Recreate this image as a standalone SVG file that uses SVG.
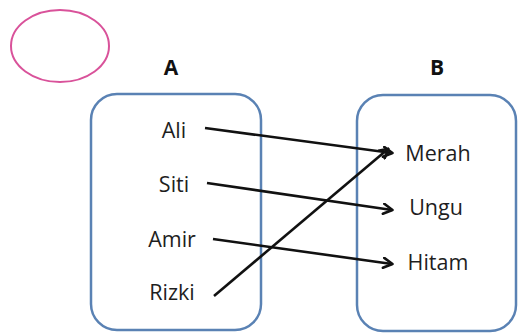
<svg xmlns="http://www.w3.org/2000/svg" width="518" height="334" viewBox="0 0 518 334">
<defs>
<style>
.box{fill:#ffffff;stroke:#5a82b4;stroke-width:2.5}
.t{font-family:"Open Sans","Liberation Sans",sans-serif;font-size:21.5px;fill:#1e1e1e;text-anchor:middle}
.h{font-family:"Open Sans","Liberation Sans",sans-serif;font-size:21px;font-weight:bold;fill:#111;text-anchor:middle}
.c{stroke:#111;stroke-width:2.6;fill:none;marker-end:url(#arr)}
</style>
<marker id="arr" markerWidth="12" markerHeight="12" refX="10" refY="6" orient="auto" markerUnits="userSpaceOnUse" viewBox="0 0 12 12">
<path d="M1.5,1 L10.5,6 L1.5,11" fill="none" stroke="#111" stroke-width="2.6" stroke-linecap="round" stroke-linejoin="round"/>
</marker>
</defs>
<rect width="518" height="334" fill="#ffffff"/>
<ellipse cx="60" cy="46" rx="49" ry="36" fill="none" stroke="#d9529a" stroke-width="2"/>
<g id="setA">
<rect class="box" x="91" y="94" width="170" height="236" rx="26"/>
<text class="h" x="171" y="75">A</text>
</g>
<g id="setB">
<rect class="box" x="357" y="95" width="159" height="236" rx="26"/>
<text class="h" x="437" y="75">B</text>
</g>
<g id="ali"><text class="t" x="174" y="138">Ali</text></g>
<g id="siti"><text class="t" x="174" y="192">Siti</text></g>
<g id="amir"><text class="t" x="172" y="247">Amir</text></g>
<g id="rizki"><text class="t" x="172" y="300">Rizki</text></g>
<g id="merah"><text class="t" x="438" y="161">Merah</text></g>
<g id="ungu"><text class="t" x="436" y="215">Ungu</text></g>
<g id="hitam"><text class="t" x="438" y="270">Hitam</text></g>
<g id="connectors">
<line class="c" x1="205" y1="128" x2="392" y2="153"/>
<line class="c" x1="207" y1="183" x2="392" y2="210"/>
<line class="c" x1="213" y1="239" x2="392" y2="264"/>
<line class="c" x1="214" y1="296" x2="388" y2="149"/>
</g>
</svg>
